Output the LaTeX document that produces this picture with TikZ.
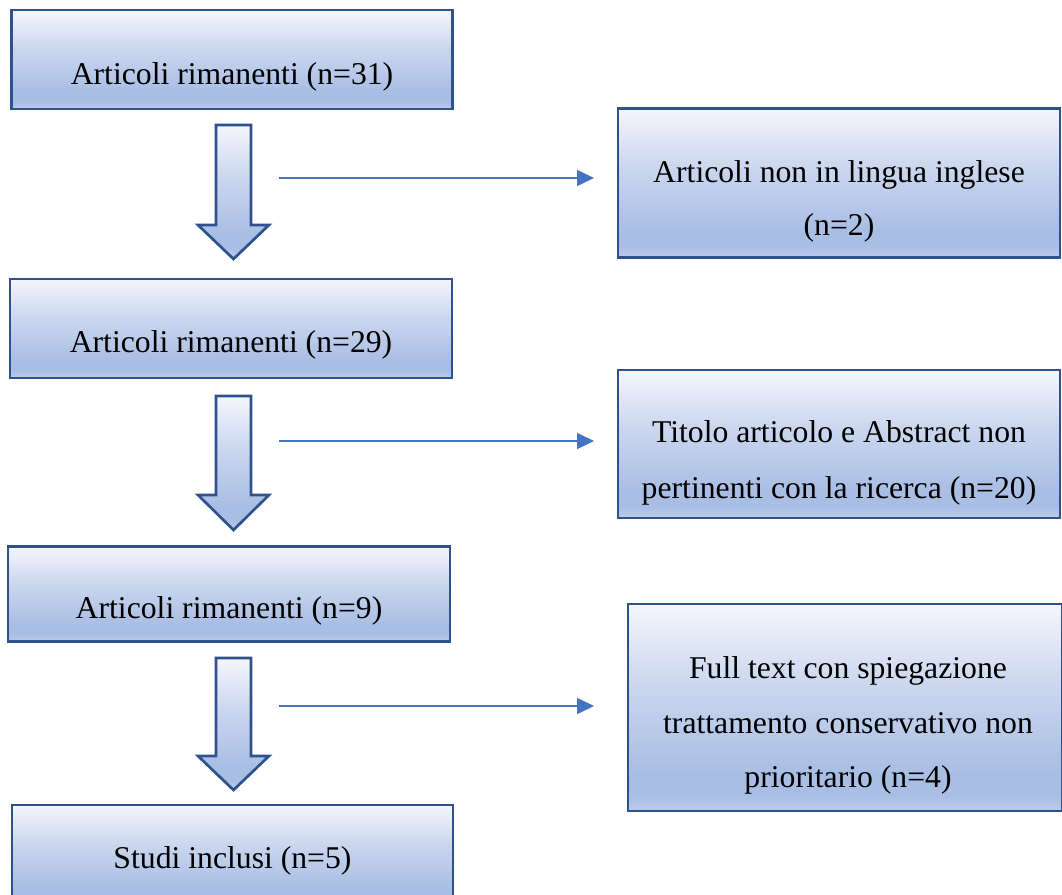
\documentclass[tikz,border=0pt]{standalone}
\usepackage{fontspec}
\setmainfont{Liberation Serif}
\usetikzlibrary{arrows.meta}
\definecolor{bordc}{HTML}{2F528F}
\definecolor{linec}{HTML}{4472C4}
\definecolor{gT}{HTML}{F4F6FC}
\definecolor{gM}{HTML}{CAD6EE}
\definecolor{gB}{HTML}{A9BEE4}
\definecolor{gL}{HTML}{BCCBEA}
\pgfdeclareverticalshading{boxgrad}{100bp}{color(0bp)=(gL); color(25bp)=(gL); color(29bp)=(gB); color(34bp)=(gB); color(55bp)=(gM); color(75bp)=(gT); color(100bp)=(gT)}
\tikzset{
  box/.style={draw=bordc, line width=2.7pt, shading=boxgrad, rectangle, inner sep=0pt},
  txt/.style={anchor=base, inner sep=0pt, font=\fontsize{31.7}{38}\selectfont},
  blockarrow/.style={draw=bordc, line width=2.7pt, shading=boxgrad, line join=miter},
  thin/.style={draw=linec, line width=1.6pt, -{Triangle[length=17pt,width=16pt]}}
}
\begin{document}
\begin{tikzpicture}[x=1pt,y=-1pt]
\useasboundingbox (0,0) rectangle (1062,894);
% left boxes
\node[box, minimum width=441pt, minimum height=99pt] (b1) at (232,59.5) {};
\node[box, minimum width=442pt, minimum height=99pt] (b3) at (231,328.5) {};
\node[box, minimum width=442pt, minimum height=95pt] (b5) at (229,594) {};
\node[box, minimum width=441pt, minimum height=100pt] (b7) at (232.5,855) {};
% right boxes
\node[box, minimum width=442pt, minimum height=149pt] (b2) at (839,183) {};
\node[box, minimum width=442pt, minimum height=148pt] (b4) at (839,444) {};
\node[box, minimum width=434pt, minimum height=207pt] (b6) at (845,707.5) {};
% texts
\node[txt] (t1) at (232,84) {Articoli rimanenti (n=31)};
\node[txt] (t3) at (231,352) {Articoli rimanenti (n=29)};
\node[txt] (t5) at (229,618) {Articoli rimanenti (n=9)};
\node[txt] (t7) at (232.5,868) {Studi inclusi (n=5)};
\node[txt] (t2a) at (839,182) {Articoli non in lingua inglese};
\node[txt] (t2b) at (839,235) {(n=2)};
\node[txt] (t4a) at (839,442) {Titolo articolo e Abstract non};
\node[txt] (t4b) at (839,498) {pertinenti con la ricerca (n=20)};
\node[txt] (t6a) at (848,678) {Full text con spiegazione};
\node[txt] (t6b) at (848,733) {trattamento conservativo non};
\node[txt] (t6c) at (848,787) {prioritario (n=4)};
% block arrows
\foreach \t/\h/\p in {125/225/259, 396/495/530, 658/756/790}{
  \shade[blockarrow] (216,\t) -- (251,\t) -- (251,\h) -- (269,\h) -- (233.5,\p) -- (198,\h) -- (216,\h) -- cycle;
}
% thin arrows
\coordinate (s1) at (279,178); \coordinate (e1) at (594,178);
\coordinate (s2) at (279,441); \coordinate (e2) at (594,441);
\coordinate (s3) at (279,706); \coordinate (e3) at (594,706);
\draw[thin] (s1) -- (e1);
\draw[thin] (s2) -- (e2);
\draw[thin] (s3) -- (e3);
\end{tikzpicture}
\end{document}
